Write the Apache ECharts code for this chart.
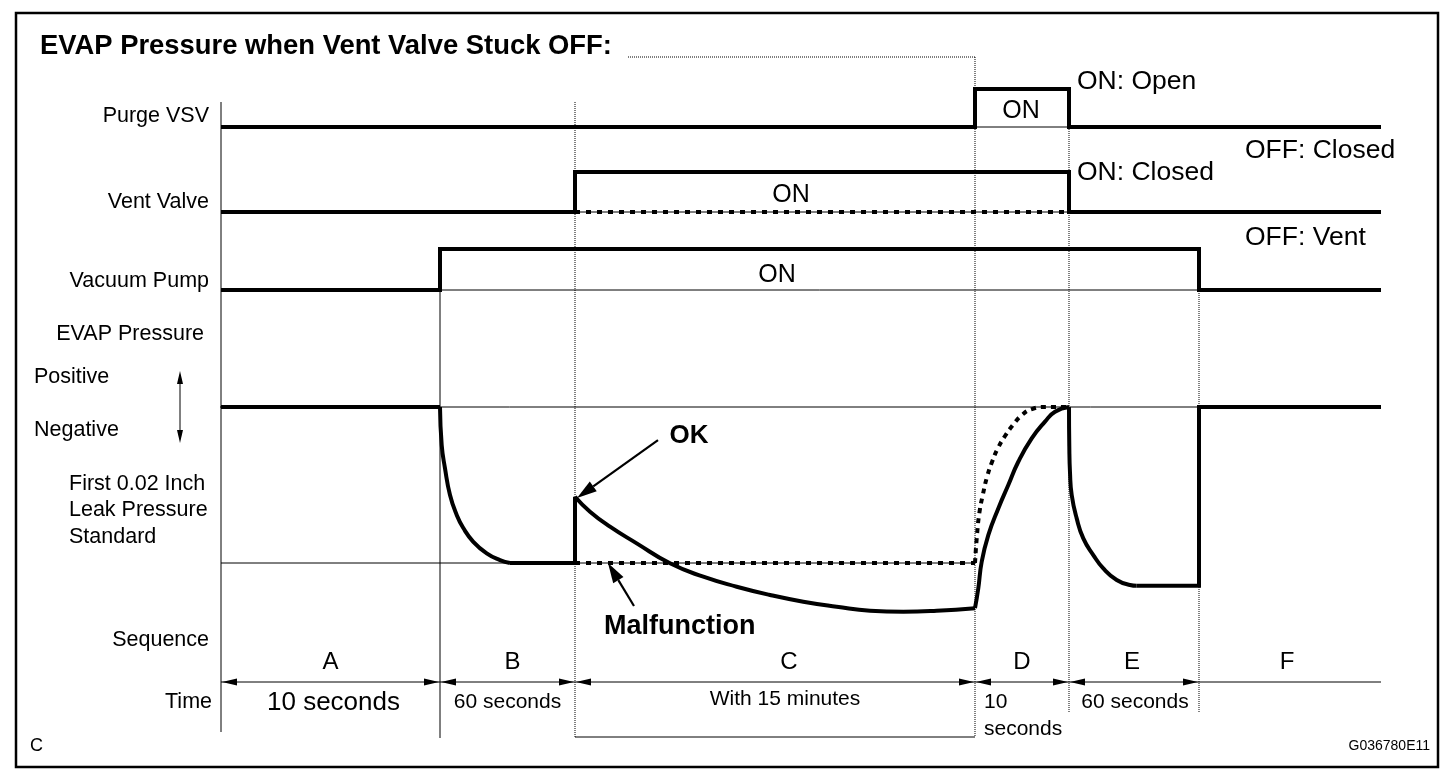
<!DOCTYPE html>
<html><head><meta charset="utf-8">
<script src="https://cdn.jsdelivr.net/npm/echarts@6/dist/echarts.min.js"></script>
<style>html,body{margin:0;padding:0;background:#fff}#c{width:1456px;height:784px}</style>
</head><body><div id="c"></div>
<script>
// ---------------- data (schematic time units on x) ----------------
const phaseNames = ['A', 'B', 'C', 'D', 'E', 'F'];
const phaseTimes = ['10 seconds', '60 seconds', 'With 15 minutes', '10\nseconds', '60 seconds', ''];
const phaseEdges = [0, 21.9, 35.4, 75.4, 84.8, 97.8, 116];

// valve / pump states (0 = OFF, 1 = ON)
const purgeVSV = [[0,0],[75.4,0],[75.4,1],[84.8,1],[84.8,0],[116,0]];
const purgeOffRef = [[75.4,0],[84.8,0]];
const ventValve = [[0,0],[35.4,0],[35.4,1],[84.8,1],[84.8,0],[116,0]];
const ventOffRef = [[35.4,0],[84.8,0]];
const ventStuckOff = [[35.4,0],[84.8,0]];
const vacuumPump = [[0,0],[21.9,0],[21.9,1],[97.8,1],[97.8,0],[116,0]];
const pumpOffRef = [[21.9,0],[97.8,0]];

// EVAP pressure (0 = atmospheric, -1 = 0.02 inch leak standard)
const atmosphericRef = [[-14.5,0],[116,0]];
const leakStandardRef = [[0,-1],[75.4,-1]];
const pressureA = [[0,0],[21.9,0]];
const pressureB = [[21.9,0],[22.07,-0.244],[22.4,-0.393],[22.9,-0.564],[23.57,-0.692],[24.23,-0.776],
  [25.23,-0.864],[26.57,-0.938],[27.9,-0.981],[28.9,-1.0]];
const pressureBHold = [[28.9,-1.0],[35.4,-1.0],[35.4,-0.575]];
const pressureOK = [[35.4,-0.575],[36.9,-0.671],[38.9,-0.767],[41.57,-0.874],[44.9,-1.002],[48.23,-1.088],
  [51.57,-1.152],[54.9,-1.205],[58.23,-1.248],[61.57,-1.28],[64.9,-1.306],[68.23,-1.312],[71.57,-1.306],[75.4,-1.29]];
const pressureD = [[75.4,-1.29],[75.73,-1.162],[76.07,-0.992],[76.73,-0.821],[77.73,-0.65],[78.73,-0.5],
  [79.73,-0.351],[81.07,-0.201],[82.4,-0.094],[83.4,-0.03],[84.8,0]];
const pressureMalfunction = [[35.4,-1.0],[75.4,-1.0]];
const pressureMalfunctionD = [[75.4,-1.0],[75.6,-0.821],[75.85,-0.673],[76.2,-0.558],[76.6,-0.449],[77.1,-0.353],
  [77.7,-0.263],[78.4,-0.186],[79.2,-0.115],[80.1,-0.051],[81.1,-0.013],[82.4,0],[84.8,0]];
const pressureE = [[84.8,0],[84.83,-0.25],[84.9,-0.42],[85.07,-0.564],[85.57,-0.714],[86.23,-0.842],
  [87.23,-0.949],[88.23,-1.035],[89.57,-1.109],[90.9,-1.141],[91.57,-1.146]];
const pressureEF = [[91.57,-1.146],[97.8,-1.146],[97.8,0],[116,0]];

// annotation arrows in pressure units: [fromX, fromY, tipX, tipY]
const calloutArrows = [[43.7,-0.212,35.6,-0.583],[41.3,-1.276,38.7,-1.0]];
const signArrow = [[-4.1,0.0,-4.1,0.231],[-4.1,0.0,-4.1,-0.231]];

// ---------------- layout / style ----------------
const FONT = '"Liberation Sans", Arial, Helvetica, sans-serif';
const L = 221, R = 1456 - 1381;
const TY = 1.5; // text baseline nudge
const guideLayout = [
  {top:102, bottom:732, dash:null},
  {top:249, bottom:738, dash:null},
  {top:102, bottom:737, dash:[1,1]},
  {top:57,  bottom:737, dash:[1,1]},
  {top:89,  bottom:713, dash:[1,1]},
  {top:249, bottom:713, dash:[1,1]},
  null
];
const phaseLabelShift = [0, 5, 14, 0, -2, -3];
const timeLabelLayout = [
  {size:26, align:'center', dx:3, dy:0},
  {size:21, align:'center', dx:0, dy:0},
  {size:21, align:'center', dx:10, dy:-3},
  {size:21, align:'left', dx:9, dy:13, fromLeft:true},
  {size:21, align:'center', dx:1, dy:0},
  {size:21, align:'center', dx:0, dy:0}
];

function head(tip, from, len, hw){
  const dx = tip[0]-from[0], dy = tip[1]-from[1];
  const d = Math.hypot(dx, dy) || 1, ux = dx/d, uy = dy/d;
  const bx = tip[0]-ux*len, by = tip[1]-uy*len;
  return {pts: [[tip[0],tip[1]],[bx-uy*hw, by+ux*hw],[bx+uy*hw, by-ux*hw]], base:[bx,by]};
}

const grids = [
  {left:L, right:R, top:89, height:38},
  {left:L, right:R, top:172, height:40},
  {left:L, right:R, top:249, height:41},
  {left:L, right:R, top:407, height:210.6},
  {left:L, right:R, top:681, height:1}
];
const yRanges = [[0,1],[0,1],[0,1],[-1.35,0],[0,1]];

function lineS(data, gi, opt){
  opt = opt || {};
  return {
    type:'line', xAxisIndex:gi, yAxisIndex:gi, data, symbol:'none', showSymbol:false,
    clip:false, silent:true, animation:false, smooth: opt.smooth || false, z: opt.z || 3,
    lineStyle:{color:'#000', width: opt.width || 4, type: opt.type || 'solid', join:'miter', cap:'butt'}
  };
}
const thin = {width:1, z:2};

const T = (text, x, y, size, align, weight, extra) => Object.assign({
  type:'text', x, y: y + TY, silent:true, z:20,
  style:{text, fill:'#000', font:`${weight||'normal'} ${size}px ${FONT}`, textAlign:align||'left', textVerticalAlign:'middle'}
}, extra || {});

const option = {
  animation:false,
  backgroundColor:'#fff',
  grid: grids,
  xAxis: grids.map((g,i)=>({type:'value', gridIndex:i, min:0, max:116, show:false})),
  yAxis: grids.map((g,i)=>({type:'value', gridIndex:i, min:yRanges[i][0], max:yRanges[i][1], show:false})),
  graphic: [
    {type:'rect', shape:{x:16, y:13, width:1422, height:754}, style:{fill:'none', stroke:'#000', lineWidth:2.5}, silent:true, z:0},
    T('EVAP Pressure when Vent Valve Stuck OFF:', 40, 45, 27.4, 'left', 'bold'),
    T('Purge VSV', 209, 115, 21.5, 'right'),
    T('Vent Valve', 209, 201, 21.5, 'right'),
    T('Vacuum Pump', 209, 280, 21.5, 'right'),
    T('EVAP Pressure', 204, 333, 21.5, 'right'),
    T('Positive', 34, 376, 21.5),
    T('Negative', 34, 429, 21.5),
    T('First 0.02 Inch', 69, 483, 21.5),
    T('Leak Pressure', 69, 509, 21.5),
    T('Standard', 69, 536, 21.5),
    T('Sequence', 209, 639, 21.5, 'right'),
    T('Time', 212, 701, 21.5, 'right'),
    T('C', 30, 745, 18),
    T('G036780E11', 1430, 745, 14, 'right'),
    T('ON: Open', 1077, 80, 26.5),
    T('OFF: Closed', 1245, 149, 26.5),
    T('ON: Closed', 1077, 171, 26.5),
    T('OFF: Vent', 1245, 236, 26.5),
    T('ON', 1021, 110, 25, 'center'),
    T('ON', 791, 194, 25, 'center'),
    T('ON', 777, 274, 25, 'center'),
    T('OK', 689, 434, 26, 'center', 'bold'),
    T('Malfunction', 604, 625, 27, 'left', 'bold')
  ],
  series: [
    // phase boundary guides
    {type:'custom', xAxisIndex:4, yAxisIndex:4, silent:true, z:1, animation:false,
      data: phaseEdges.map((e,i)=>[e, i]),
      renderItem(params, api){
        const g = guideLayout[params.dataIndex]; if(!g) return null;
        const p = api.coord([api.value(0), 0]);
        return {type:'line', shape:{x1:p[0], y1:g.top, x2:p[0], y2:g.bottom},
          style:{stroke:'#000', lineWidth:1, lineDash:g.dash}};
      }},
    // bracket around phase C
    {type:'custom', xAxisIndex:4, yAxisIndex:4, silent:true, z:1, animation:false,
      data: [[phaseEdges[2], phaseEdges[3]]],
      renderItem(params, api){
        const a = api.coord([api.value(0), 0]), b = api.coord([api.value(1), 0]);
        return {type:'group', children:[
          {type:'line', shape:{x1:628, y1:57, x2:b[0], y2:57}, style:{stroke:'#000', lineWidth:1, lineDash:[1,1]}},
          {type:'line', shape:{x1:a[0], y1:737, x2:b[0], y2:737}, style:{stroke:'#000', lineWidth:1}}
        ]};
      }},
    // time line
    lineS([[phaseEdges[0],0],[phaseEdges[6],0]], 4, {width:1, z:2}),
    {type:'custom', xAxisIndex:4, yAxisIndex:4, silent:true, z:4, animation:false,
      data: phaseNames.map((n,i)=>[phaseEdges[i], phaseEdges[i+1], i]),
      renderItem(params, api){
        const i = params.dataIndex;
        const a = api.coord([api.value(0), 0]), b = api.coord([api.value(1), 0]);
        const kids = [];
        const mid = (a[0]+b[0])/2;
        kids.push({type:'text', x: mid + phaseLabelShift[i], y: a[1]-21+TY,
          style:{text: phaseNames[i], fill:'#000', font:`24px ${FONT}`, textAlign:'center', textVerticalAlign:'middle'}});
        const tl = timeLabelLayout[i];
        if (phaseTimes[i]) {
          const hl = 15, hw = 3.5;
          kids.push({type:'polygon', shape:{points:[[a[0]+1,a[1]],[a[0]+1+hl,a[1]-hw],[a[0]+1+hl,a[1]+hw]]}, style:{fill:'#000'}});
          kids.push({type:'polygon', shape:{points:[[b[0]-1,b[1]],[b[0]-1-hl,b[1]-hw],[b[0]-1-hl,b[1]+hw]]}, style:{fill:'#000'}});
          kids.push({type:'text', x: (tl.fromLeft ? a[0] : mid) + tl.dx, y: a[1] + 19 + tl.dy + TY,
            style:{text: phaseTimes[i], fill:'#000', font:`${tl.size}px ${FONT}`, textAlign: tl.align,
              textVerticalAlign:'middle', lineHeight:27}});
        }
        return {type:'group', children:kids};
      }},
    // reference (thin) lines
    lineS(purgeOffRef, 0, thin),
    lineS(ventOffRef, 1, thin),
    lineS(pumpOffRef, 2, thin),
    lineS(atmosphericRef, 3, thin),
    lineS(leakStandardRef, 3, thin),
    // states
    lineS(purgeVSV, 0),
    lineS(ventValve, 1),
    lineS(ventStuckOff, 1, {type:[5,6]}),
    lineS(vacuumPump, 2),
    // EVAP pressure
    lineS(pressureA, 3),
    lineS(pressureB, 3, {smooth:0.5}),
    lineS(pressureBHold, 3),
    lineS(pressureOK, 3, {smooth:0.5}),
    lineS(pressureD, 3, {smooth:0.5}),
    lineS(pressureMalfunction, 3, {type:[5,6]}),
    lineS(pressureMalfunctionD, 3, {type:[5,5], smooth:0.5}),
    lineS(pressureE, 3, {smooth:0.5}),
    lineS(pressureEF, 3),
    // callout arrows
    {type:'custom', xAxisIndex:3, yAxisIndex:3, silent:true, z:6, animation:false,
      data: calloutArrows,
      renderItem(params, api){
        const f = api.coord([api.value(0), api.value(1)]), t = api.coord([api.value(2), api.value(3)]);
        const h = head(t, f, 20, 6);
        return {type:'group', children:[
          {type:'line', shape:{x1:f[0], y1:f[1], x2:h.base[0], y2:h.base[1]}, style:{stroke:'#000', lineWidth:2.2}},
          {type:'polygon', shape:{points:h.pts}, style:{fill:'#000'}}
        ]};
      }},
    {type:'custom', xAxisIndex:3, yAxisIndex:3, silent:true, z:6, animation:false,
      data: signArrow,
      renderItem(params, api){
        const f = api.coord([api.value(0), api.value(1)]), t = api.coord([api.value(2), api.value(3)]);
        const h = head(t, f, 13, 3);
        return {type:'group', children:[
          {type:'line', shape:{x1:f[0], y1:f[1], x2:h.base[0], y2:h.base[1]}, style:{stroke:'#000', lineWidth:1}},
          {type:'polygon', shape:{points:h.pts}, style:{fill:'#000'}}
        ]};
      }}
  ]
};

const chart = echarts.init(document.getElementById('c'), null, {renderer:'canvas'});
chart.setOption(option);
</script>
</body></html>
